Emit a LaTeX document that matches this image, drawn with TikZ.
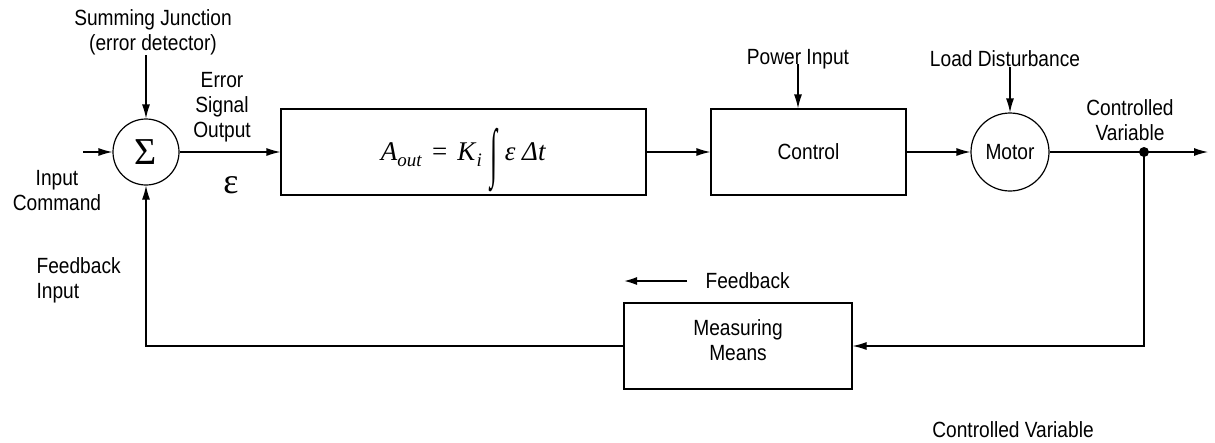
\documentclass[tikz,border=0pt]{standalone}
\usepackage{fontspec}
\setmainfont{Liberation Sans}[FakeStretch=0.87]
\newfontfamily\grkfont{Liberation Serif}
\usetikzlibrary{arrows.meta}

\begin{document}
\begin{tikzpicture}[x=1pt, y=-1pt,
  line width=1.2pt,
  font=\fontsize{22}{25}\selectfont,
  lbl/.style={align=center, inner sep=0pt},
  blk/.style={rectangle, draw, align=center, minimum height=86pt, inner sep=0pt},
  junc/.style={circle, draw, inner sep=0pt},
  >={Latex[length=14pt,width=8pt]}
]
\useasboundingbox (0,0) rectangle (1215,442);

% forward path
\node[junc, minimum size=66pt] (sum) at (146,152) {\grkfont\fontsize{38}{38}\selectfont Σ};
\node[blk, minimum width=365pt, text height=19pt, text depth=3pt, font=\grkfont\fontsize{27}{30}\selectfont] (integ) at (463.5,152)
  {\textit{A}\raisebox{-6pt}{\fontsize{19}{19}\selectfont\textit{out}}\hspace{10pt}=\hspace{10pt}\textit{K}\raisebox{-6pt}{\fontsize{19}{19}\selectfont\textit{i}}\hspace{9pt}\smash{\raisebox{-14pt}{\scalebox{0.95}[2.4]{∫}}}\hspace{7pt}\textit{ε~Δt}};
\node[blk, minimum width=195pt] (ctrl) at (808.5,152) {Control};
\node[junc, minimum size=78pt] (motor) at (1010,152) {Motor};
\node[blk, minimum width=228pt, label={[lbl, yshift=6pt]center:{Measuring\\Means}}] (meas) at (738,346) {};

\coordinate (in) at (83,152);
\coordinate (tap) at (1144,152);
\coordinate (out) at (1208,152);
\coordinate (fbA) at (687,281);
\coordinate (fbB) at (623,281);

% labels
\node[lbl] (sumlbl) at (153,32) {Summing Junction\\(error detector)};
\node[lbl] (cmd) at (57,191) {Input\\Command};
\node[lbl] (errlbl) at (222,107) {Error\\Signal\\Output};
\node[lbl] (eps) at (231,185) {\grkfont\fontsize{36}{36}\selectfont ε};
\node[lbl] (pwr) at (798,59) {Power Input};
\node[lbl] (load) at (1005,59) {Load Disturbance};
\node[lbl] (cvlbl) at (1130,120) {Controlled\\Variable};
\node[lbl, anchor=west] (fblbl) at (705,281) {Feedback};
\node[lbl, anchor=west, align=left] (fbin) at (36,280) {Feedback\\Input};
\node[lbl] (cvbot) at (1013,430) {Controlled Variable};

% connectors
\draw[->] (in) -- (sum.west);
\draw[->] (sumlbl.south -| sum.north) -- (sum.north);
\draw[->] (sum.east) -- (integ.west);
\draw[->] (integ.east) -- (ctrl.west);
\draw[->] (pwr.base) -- (pwr.base |- ctrl.north);
\draw[->] (ctrl.east) -- (motor.west);
\draw[->] (load.base -| motor.north) -- (motor.north);
\draw (motor.east) -- (tap);
\draw[->] (tap) -- (out);
\fill (tap) circle (5pt);
\draw[->] (tap) |- (meas.east);
\draw[->] (meas.west) -| (sum.south);
\draw[->, line width=2.4pt] (fbA) -- (fbB);
\end{tikzpicture}
\end{document}
